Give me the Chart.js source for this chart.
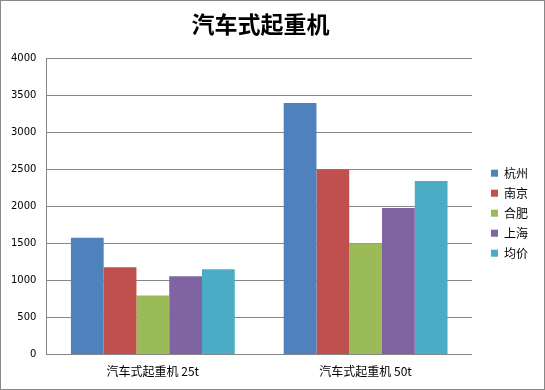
<!DOCTYPE html>
<html>
<head>
<meta charset="utf-8">
<script src="https://cdn.jsdelivr.net/npm/chart.js@4.4.1/dist/chart.umd.min.js"></script>
<style>
html,body{margin:0;padding:0;background:#fff;}
#wrap{width:545px;height:390px;box-sizing:border-box;border:1px solid #888;position:relative;}
canvas{display:block;}
</style>
</head>
<body>
<div id="wrap"><canvas id="c" width="543" height="388"></canvas></div>
<script>
const title = '汽车式起重机';
const categories = ['汽车式起重机 25t', '汽车式起重机 50t'];
const seriesNames = ['杭州', '南京', '合肥', '上海', '均价'];
const hangzhou = [1580, 3400];
const nanjing = [1180, 2500];
const hefei = [800, 1500];
const shanghai = [1060, 1980];
const average = [1155, 2345];
const yTicks = [0, 500, 1000, 1500, 2000, 2500, 3000, 3500, 4000];

const colors = ['#4F81BD', '#C0504D', '#9BBB59', '#8064A2', '#4BACC6'];
const values = [hangzhou, nanjing, hefei, shanghai, average];

const cjk = '"Noto Sans CJK SC", "DejaVu Sans", sans-serif';

const titleShift = {
  id: 'titleShift',
  afterLayout(chart) {
    const t = chart.titleBlock;
    if (t) { t.left -= 9; t.right -= 9; }
  }
};

new Chart(document.getElementById('c'), {
  type: 'bar',
  data: {
    labels: categories,
    datasets: seriesNames.map((n, i) => ({
      label: n,
      data: values[i],
      backgroundColor: colors[i],
      borderWidth: 0,
      categoryPercentage: 0.77,
      barPercentage: 1.0
    }))
  },
  plugins: [titleShift],
  options: {
    responsive: false,
    animation: false,
    devicePixelRatio: 1,
    layout: { padding: { top: 0, right: 6, bottom: 0, left: 0 } },
    plugins: {
      title: {
        display: true,
        text: title,
        color: '#000',
        font: { family: cjk, size: 23, weight: 'bold' },
        padding: { top: 9, bottom: 21 }
      },
      legend: {
        position: 'right',
        title: { display: true, text: ' ', font: { size: 12 }, padding: 11 },
        labels: {
          boxWidth: 7,
          boxHeight: 7,
          padding: 8,
          color: '#000',
          font: { family: cjk, size: 12 }
        }
      },
      tooltip: { enabled: false }
    },
    scales: {
      x: {
        grid: { display: false, drawTicks: false },
        border: { display: true, color: '#868686', width: 1 },
        ticks: { color: '#000', font: { family: cjk, size: 12 }, padding: 10 }
      },
      y: {
        min: 0,
        max: 4000,
        afterBuildTicks: s => { s.ticks = yTicks.map(v => ({ value: v })); },
        grid: { color: '#868686', drawTicks: false },
        border: { display: true, color: '#868686', width: 1 },
        ticks: {
          color: '#000',
          font: { family: '"DejaVu Sans", sans-serif', size: 10 },
          padding: 10,
          callback: v => String(v)
        }
      },
      gap: {
        position: 'right',
        display: true,
        grid: { display: false, drawTicks: false },
        border: { display: false },
        ticks: { display: false },
        afterFit: s => { s.width = 11; }
      }
    }
  }
});
</script>
</body>
</html>
